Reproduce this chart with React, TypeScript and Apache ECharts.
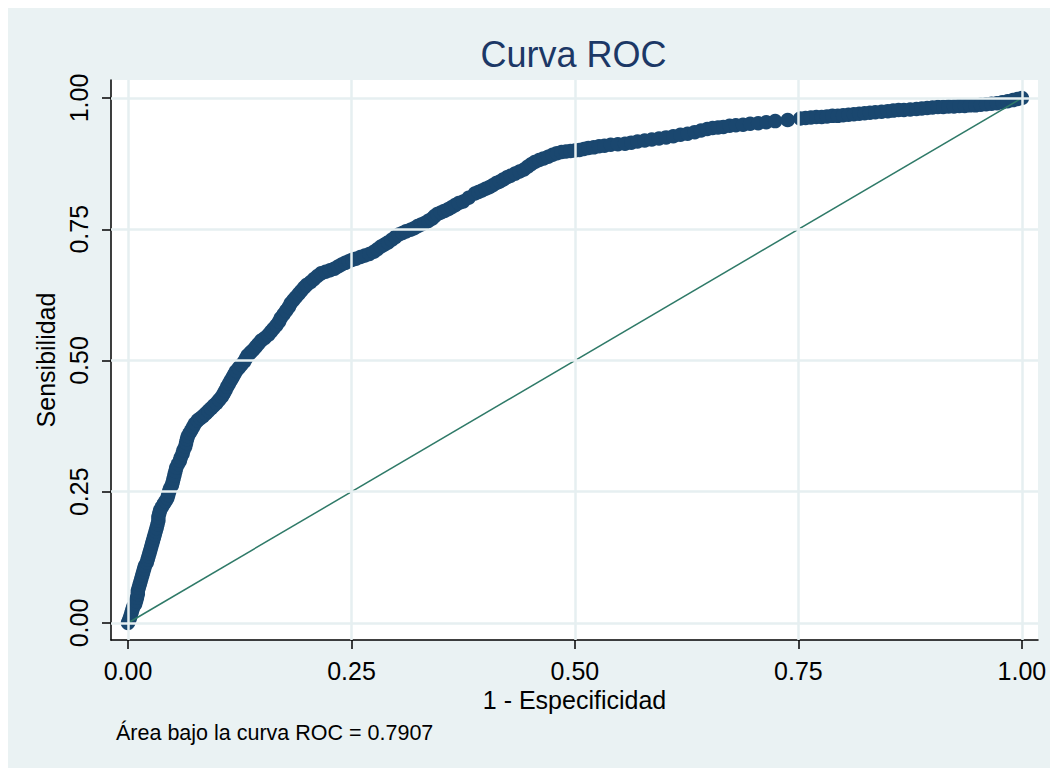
import React, { useEffect, useRef } from 'react';
import * as echarts from 'echarts';

// ROC curve points [1 - especificidad, sensibilidad]
const rocSteep = [
  [0, 0], [0.001, 0.004], [0.002, 0.009], [0.003, 0.014], [0.004, 0.02], [0.005, 0.026], [0.006, 0.031],
  [0.008, 0.036], [0.009, 0.042], [0.01, 0.048], [0.011, 0.055], [0.011, 0.061], [0.012, 0.067],
  [0.013, 0.073], [0.014, 0.079], [0.015, 0.085], [0.016, 0.091], [0.017, 0.097], [0.018, 0.103],
  [0.019, 0.109], [0.021, 0.115], [0.022, 0.121], [0.023, 0.127], [0.024, 0.133], [0.025, 0.139],
  [0.026, 0.145], [0.027, 0.151], [0.028, 0.157], [0.029, 0.163], [0.03, 0.169], [0.031, 0.175],
  [0.032, 0.181], [0.033, 0.188], [0.034, 0.195], [0.034, 0.202], [0.035, 0.209], [0.036, 0.215],
  [0.038, 0.221], [0.04, 0.227], [0.042, 0.232], [0.044, 0.238], [0.045, 0.244], [0.046, 0.25],
  [0.047, 0.256], [0.049, 0.262], [0.05, 0.268], [0.051, 0.275], [0.052, 0.282], [0.053, 0.289],
  [0.054, 0.296], [0.056, 0.303], [0.058, 0.309], [0.059, 0.315], [0.061, 0.322], [0.062, 0.329],
  [0.064, 0.336], [0.065, 0.343], [0.066, 0.35], [0.067, 0.356], [0.069, 0.362], [0.071, 0.368],
  [0.073, 0.374], [0.075, 0.38], [0.078, 0.386], [0.081, 0.39], [0.084, 0.394], [0.087, 0.399],
  [0.09, 0.404], [0.093, 0.409], [0.096, 0.414], [0.099, 0.419], [0.102, 0.425],
];

const rocRise = [
  [0.105, 0.431], [0.107, 0.437], [0.109, 0.443], [0.111, 0.45], [0.113, 0.456], [0.115, 0.462],
  [0.117, 0.468], [0.119, 0.474], [0.121, 0.48], [0.124, 0.486], [0.127, 0.492], [0.13, 0.498],
  [0.132, 0.504], [0.134, 0.51], [0.137, 0.515], [0.14, 0.52], [0.143, 0.526], [0.146, 0.532],
  [0.149, 0.538], [0.153, 0.543], [0.157, 0.549], [0.16, 0.555], [0.163, 0.561], [0.166, 0.567],
  [0.169, 0.574], [0.171, 0.581], [0.174, 0.588], [0.177, 0.595], [0.18, 0.602], [0.182, 0.609],
  [0.185, 0.615], [0.188, 0.621], [0.191, 0.627], [0.194, 0.633], [0.197, 0.639], [0.2, 0.644],
  [0.204, 0.649], [0.208, 0.655], [0.212, 0.661], [0.216, 0.666], [0.221, 0.669], [0.226, 0.672],
  [0.231, 0.675], [0.235, 0.679], [0.239, 0.683], [0.243, 0.686], [0.247, 0.689], [0.251, 0.692],
];

const rocBend = [
  [0.255, 0.694], [0.26, 0.697], [0.265, 0.7], [0.27, 0.703], [0.275, 0.707], [0.279, 0.712],
  [0.283, 0.717], [0.287, 0.721], [0.291, 0.725], [0.295, 0.73], [0.299, 0.735], [0.303, 0.74],
  [0.307, 0.743], [0.311, 0.746], [0.316, 0.749], [0.32, 0.752], [0.324, 0.756], [0.328, 0.759],
  [0.332, 0.762], [0.336, 0.766], [0.34, 0.77], [0.343, 0.775], [0.346, 0.779], [0.35, 0.782],
  [0.354, 0.785], [0.358, 0.788], [0.362, 0.792], [0.366, 0.796], [0.37, 0.8], [0.375, 0.803],
  [0.381, 0.81], [0.388, 0.818], [0.392, 0.821], [0.396, 0.824], [0.4, 0.827], [0.404, 0.83],
  [0.408, 0.834], [0.412, 0.838], [0.416, 0.841], [0.42, 0.845], [0.424, 0.849], [0.428, 0.852],
  [0.433, 0.856], [0.438, 0.86], [0.443, 0.864], [0.447, 0.869], [0.451, 0.874], [0.455, 0.878],
  [0.46, 0.882], [0.465, 0.885], [0.47, 0.888], [0.475, 0.892], [0.48, 0.895], [0.485, 0.897],
  [0.49, 0.898], [0.495, 0.899], [0.5, 0.9],
];

const rocPlateau = [
  [0.505, 0.901], [0.51, 0.903], [0.515, 0.905], [0.521, 0.906], [0.527, 0.908], [0.533, 0.909],
  [0.54, 0.911], [0.548, 0.912], [0.556, 0.913], [0.563, 0.915], [0.57, 0.917], [0.578, 0.919],
  [0.586, 0.921], [0.594, 0.923], [0.602, 0.925], [0.61, 0.927], [0.618, 0.93], [0.626, 0.932],
  [0.634, 0.935], [0.641, 0.938], [0.648, 0.941], [0.654, 0.943], [0.66, 0.944], [0.666, 0.945],
  [0.673, 0.947], [0.68, 0.948], [0.688, 0.949], [0.696, 0.951], [0.705, 0.952], [0.714, 0.954],
  [0.724, 0.956], [0.738, 0.958], [0.752, 0.961],
];

const rocTop = [
  [0.758, 0.962], [0.764, 0.963], [0.77, 0.964], [0.776, 0.964], [0.782, 0.965], [0.788, 0.966],
  [0.794, 0.966], [0.8, 0.967], [0.806, 0.968], [0.812, 0.969], [0.818, 0.97], [0.824, 0.971],
  [0.83, 0.972], [0.836, 0.973], [0.843, 0.974], [0.85, 0.975], [0.856, 0.976], [0.862, 0.977],
  [0.868, 0.977], [0.875, 0.978], [0.882, 0.979], [0.888, 0.98], [0.894, 0.981], [0.9, 0.982],
  [0.906, 0.983], [0.912, 0.983], [0.918, 0.984], [0.924, 0.984], [0.93, 0.985], [0.936, 0.985],
  [0.942, 0.986], [0.948, 0.986], [0.954, 0.987], [0.96, 0.988], [0.966, 0.989], [0.972, 0.99],
  [0.978, 0.992], [0.984, 0.994], [0.99, 0.996], [0.995, 0.998], [1, 1],
];

const referenceLine = [[0, 0], [1, 1]];
const tickValues = [0, 0.25, 0.5, 0.75, 1];

const chartTitle = 'Curva ROC';
const xTitle = '1 - Especificidad';
const yTitle = 'Sensibilidad';
const footnote = 'Área bajo la curva ROC = 0.7907';

export default function App() {
  const ref = useRef<HTMLDivElement>(null);

  useEffect(() => {
    document.documentElement.style.overflow = 'hidden';
    const chart = echarts.init(ref.current as HTMLDivElement, null, { renderer: 'svg' });
    const font = "'Liberation Sans', Arial, Helvetica, sans-serif";
    const points = [...rocSteep, ...rocRise, ...rocBend, ...rocPlateau, ...rocTop];
    const axisCommon = {
      type: 'value',
      axisLine: { show: true, onZero: false, lineStyle: { color: '#000', width: 1.5 } },
      axisTick: { show: true, customValues: tickValues, length: 9, lineStyle: { color: '#000', width: 1.5 } },
      splitLine: { show: false },
      nameLocation: 'middle',
      nameTextStyle: { fontSize: 25, color: '#000', fontFamily: font },
    };

    chart.setOption({
      animation: false,
      backgroundColor: '#EAF2F3',
      textStyle: { fontFamily: font },
      grid: {
        left: 103,
        right: 20,
        top: 72,
        bottom: 128,
        show: true,
        backgroundColor: '#ffffff',
        borderWidth: 0,
      },
      xAxis: {
        ...axisCommon,
        min: -0.019,
        max: 1.018,
        axisLabel: {
          customValues: tickValues,
          formatter: (v: number) => v.toFixed(2),
          fontSize: 25,
          color: '#000',
          margin: 18,
          fontFamily: font,
        },
        name: xTitle,
        nameGap: 44,
      },
      yAxis: {
        ...axisCommon,
        min: -0.0324,
        max: 1.0343,
        axisLabel: {
          customValues: tickValues,
          formatter: (v: number) => v.toFixed(2),
          fontSize: 25,
          color: '#000',
          margin: 20,
          rotate: 90,
          fontFamily: font,
        },
        name: yTitle,
        nameGap: 46,
      },
      series: [
        {
          type: 'line',
          data: [[0, 0]],
          symbol: 'none',
          silent: true,
          lineStyle: { opacity: 0 },
          z: 1,
          markLine: {
            silent: true,
            symbol: 'none',
            animation: false,
            label: { show: false },
            emphasis: { disabled: true },
            lineStyle: { color: '#E6EFF1', width: 2.5, type: 'solid' },
            data: [
              ...tickValues.map((v) => ({ xAxis: v })),
              ...tickValues.map((v) => ({ yAxis: v })),
            ],
          },
        },
        {
          type: 'scatter',
          data: points,
          symbol: 'circle',
          symbolSize: 14.5,
          itemStyle: { color: '#1a476f', opacity: 1 },
          silent: true,
          z: 3,
        },
        {
          type: 'line',
          data: referenceLine,
          symbol: 'none',
          silent: true,
          lineStyle: { color: '#2f7a68', width: 1.5 },
          z: 4,
        },
      ],
      graphic: [
        {
          type: 'text',
          x: 565.5,
          y: 46,
          style: {
            text: chartTitle,
            fontSize: 36,
            fontFamily: font,
            fill: '#1c3866',
            textAlign: 'center',
            textVerticalAlign: 'middle',
          },
        },
        {
          type: 'text',
          x: 108,
          y: 725,
          style: {
            text: footnote,
            fontSize: 21.5,
            fontFamily: font,
            fill: '#000',
            textAlign: 'left',
            textVerticalAlign: 'middle',
          },
        },
      ],
    });

    return () => chart.dispose();
  }, []);

  return <div ref={ref} style={{ width: 1050, height: 760 }} />;
}
